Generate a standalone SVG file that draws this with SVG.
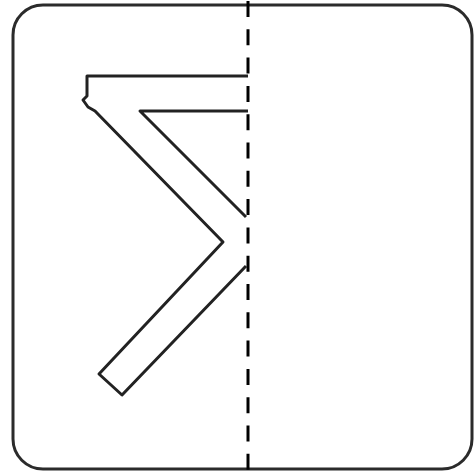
<svg xmlns="http://www.w3.org/2000/svg" width="475" height="473" viewBox="0 0 475 473">
<style>
.frame{fill:#fff;stroke:#2b2b2b;stroke-width:3}
.glyph{fill:none;stroke:#222;stroke-width:3;stroke-linejoin:round;stroke-linecap:butt}
.axis{stroke:#000;stroke-width:3;stroke-dasharray:16 12.3}
</style>
<rect width="475" height="473" fill="#fff"/>
<g id="frame"><rect class="frame" x="13" y="5" width="459" height="464" rx="30" ry="30"/></g>
<g id="glyph">
<path class="glyph" d="M248,111 L140,111 L246,217"/>
<path class="glyph" d="M246,266 L122,395 L99,374 L223,242 L95,111 L88,107 L83,100 L87,96 L87,76 L248,76"/>
</g>
<g id="connectors"><line class="axis" x1="248" y1="1" x2="248" y2="470"/></g>
</svg>
